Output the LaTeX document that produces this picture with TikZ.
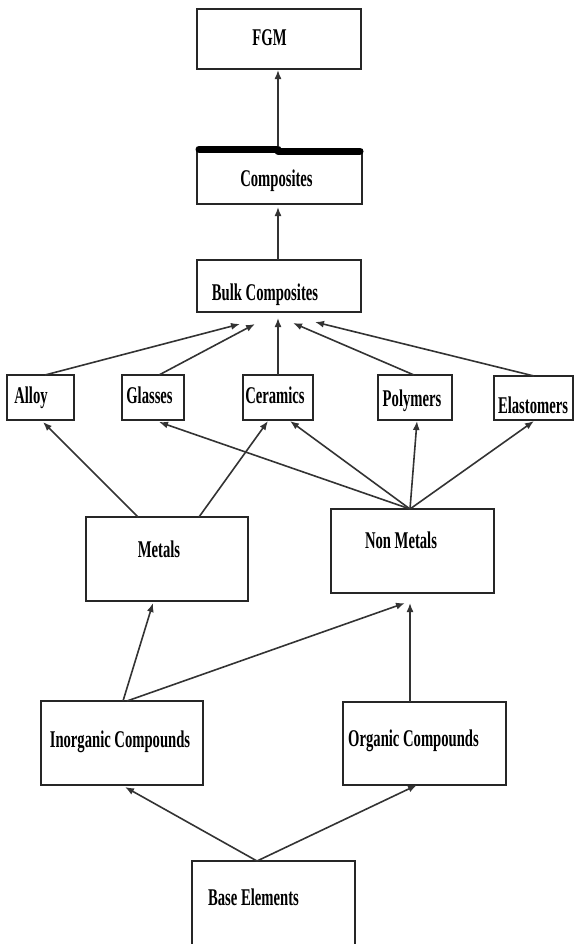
\documentclass[tikz,border=0pt]{standalone}
\usepackage{fontspec}
\setmainfont{Liberation Serif}
\usetikzlibrary{arrows.meta,calc}
\tikzset{
  box/.style={draw=black!85, line width=1.6bp, inner sep=0pt, outer sep=0pt, fill=none},
  lbl/.style={anchor=base, inner sep=0pt, font=\fontsize{24bp}{27bp}\selectfont\bfseries},
  conn/.style={draw=black!80, line width=1.6bp, -{Latex[length=9bp,width=7bp]}},
}
\newcommand{\sq}[1]{\scalebox{0.61}[1]{#1}}
\begin{document}
\begin{tikzpicture}[x=1bp,y=-1bp]
\useasboundingbox (0,0) rectangle (577,944);
% boxes
\node[box, minimum width=164bp, minimum height=60bp] (fgm) at (279,39) {};
\node[box, minimum width=165bp, minimum height=54bp] (comp) at (279.5,177) {};
\node[box, minimum width=164bp, minimum height=52bp] (bulk) at (279,286) {};
\node[box, minimum width=67bp, minimum height=45bp] (alloy) at (40.5,397.5) {};
\node[box, minimum width=62bp, minimum height=45bp] (glass) at (153,397.5) {};
\node[box, minimum width=70bp, minimum height=45bp] (ceram) at (278,397.5) {};
\node[box, minimum width=74bp, minimum height=45bp] (poly) at (415,397.5) {};
\node[box, minimum width=79bp, minimum height=44bp] (elast) at (533.5,398) {};
\node[box, minimum width=162bp, minimum height=84bp] (metal) at (167,559) {};
\node[box, minimum width=163bp, minimum height=84bp] (nonm) at (412.5,551) {};
\node[box, minimum width=162bp, minimum height=84bp] (inorg) at (122,743) {};
\node[box, minimum width=163bp, minimum height=83bp] (org) at (424.5,743.5) {};
\node[box, minimum width=163bp, minimum height=89bp] (base) at (273.5,905.5) {};
% thick bar on top of Composites
\draw[line width=7bp, line cap=round, black]
  ($(comp.north west)+(2,-1)$) -- ($(comp.north west)+(81,-1)$);
\draw[line width=7bp, line cap=round, black]
  ($(comp.north west)+(81,1)$) -- ($(comp.north east)+(-2,1)$);
% labels
\node[lbl] (fgmt) at (269.5,45) {\sq{FGM}};
\node[lbl] (compt) at (276.5,186) {\sq{Composites}};
\node[lbl] (bulkt) at (265,300) {\sq{Bulk Composites}};
\node[lbl] (alloyt) at (31,403) {\sq{Alloy}};
\node[lbl] (glasst) at (149.5,403) {\sq{Glasses}};
\node[lbl] (ceramt) at (275,403) {\sq{Ceramics}};
\node[lbl] (polyt) at (412,406) {\sq{Polymers}};
\node[lbl] (elastt) at (533,413) {\sq{Elastomers}};
\node[lbl] (metalt) at (159,557) {\sq{Metals}};
\node[lbl] (nonmt) at (401,548) {\sq{Non Metals}};
\node[lbl] (inorgt) at (120,747) {\sq{Inorganic Compounds}};
\node[lbl] (orgt) at (413.5,746) {\sq{Organic Compounds}};
\node[lbl] (baset) at (253.5,905) {\sq{Base Elements}};
% connectors
\draw[conn] ($(comp.north west)+(81,-4)$) -- ($(fgm.south west)+(81,1)$);
\draw[conn] ($(bulk.north west)+(81,0)$) -- ($(comp.south west)+(81,3)$);
\draw[conn] ($(alloy.north west)+(38,0)$) -- ($(bulk.south west)+(43,12)$);
\draw[conn] ($(glass.north west)+(37,0)$) -- ($(bulk.south west)+(58,12)$);
\draw[conn] ($(ceram.north west)+(35,0)$) -- ($(bulk.south west)+(81,6)$);
\draw[conn] ($(poly.north west)+(36,0)$) -- ($(bulk.south west)+(96,11)$);
\draw[conn] ($(elast.north west)+(40,0)$) -- ($(bulk.south west)+(118,10)$);
\draw[conn] ($(metal.north west)+(52,0)$) -- ($(alloy.south west)+(36,2)$);
\draw[conn] ($(metal.north west)+(113,0)$) -- ($(ceram.south west)+(25,1)$);
\draw[conn] ($(nonm.north west)+(79,0)$) -- ($(glass.south west)+(37,2)$);
\draw[conn] ($(nonm.north west)+(79,0)$) -- ($(ceram.south west)+(47,1)$);
\draw[conn] ($(nonm.north west)+(79,0)$) -- ($(poly.south west)+(39,1)$);
\draw[conn] ($(nonm.north west)+(79,0)$) -- ($(elast.south west)+(40,1)$);
\draw[conn] ($(inorg.north west)+(82,0)$) -- ($(metal.south west)+(67,2)$);
\draw[conn] ($(inorg.north west)+(86,0)$) -- ($(nonm.south west)+(74,10)$);
\draw[conn] ($(org.north west)+(67,0)$) -- ($(nonm.south west)+(79,10)$);
\draw[conn] ($(base.north west)+(65,0)$) -- ($(inorg.south west)+(84,2)$);
\draw[conn] ($(base.north west)+(65,0)$) -- ($(org.south west)+(74,0)$);
\end{tikzpicture}
\end{document}
